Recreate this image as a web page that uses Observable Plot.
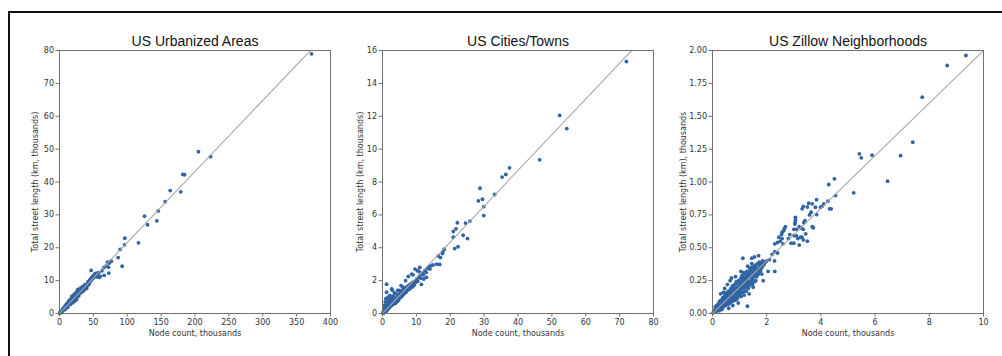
<!DOCTYPE html>
<html>
<head>
<meta charset="utf-8">
<script src="https://cdn.jsdelivr.net/npm/d3@7"></script>
<script src="https://cdn.jsdelivr.net/npm/@observablehq/plot@0.6"></script>
<style>
  html, body { margin: 0; padding: 0; background: #fff; }
  #page { position: relative; width: 1002px; height: 356px; overflow: hidden; background: #fff; }
  #border { position: absolute; left: 8px; top: 11px; width: 1000px; height: 360px; border-top: 2px solid #111; border-left: 2px solid #111; }
  .panel { position: absolute; top: 0; }
</style>
</head>
<body>
<div id="page"><div id="border"></div></div>
<script>
// ---------- data (thousands) ----------
const titles = ["US Urbanized Areas", "US Cities/Towns", "US Zillow Neighborhoods"];
const xLabel = "Node count, thousands";
const yLabels = ["Total street length (km, thousands)", "Total street length (km, thousands)", "Total street length (km), thousands"];

const urbanXTicks = [0, 50, 100, 150, 200, 250, 300, 350, 400];
const urbanYTicks = [0, 10, 20, 30, 40, 50, 60, 70, 80];
const cityXTicks = [0, 10, 20, 30, 40, 50, 60, 70, 80];
const cityYTicks = [0, 2, 4, 6, 8, 10, 12, 14, 16];
const zillowXTicks = [0, 2, 4, 6, 8, 10];
const zillowYTicks = [0, 0.25, 0.5, 0.75, 1.0, 1.25, 1.5, 1.75, 2.0];

// reference lines (node count -> street length)
const urbanRefLine = [[0, 0], [400, 86.4]];
const cityRefLine = [[0, 0], [80, 17.4]];
const zillowRefLine = [[0, 0], [10, 2.0]];

const urbanPoints = [
[0.3,0.1],[0.6,0.2],[0.9,0.2],[1.2,0.3],[1.5,0.3],[1.8,0.4],[2.1,0.5],[2.4,0.5],[2.8,0.6],[3.1,0.7],[3.5,0.7],[3.9,0.8],[4.2,0.9],[4.6,1.0],[5.0,1.1],[5.4,1.1],[5.8,1.3],[6.2,1.2],[6.6,1.4],[7.0,1.5],[7.5,1.7],[7.9,1.6],[8.3,1.8],[8.8,1.9],[9.2,2.1],[9.7,2.0],[10.1,2.3],[10.6,2.2],[11.0,2.5],[11.5,2.4],[12.0,2.6],[12.4,2.8],[12.9,2.7],[13.3,3.0],[13.8,2.9],[14.2,3.2],[14.7,3.1],[15.1,3.4],[15.6,3.3],[16.0,3.7],[16.5,3.5],[16.9,3.9],[17.4,3.6],[17.8,4.1],[18.3,3.8],[18.7,4.3],[19.2,4.0],[19.6,4.5],[20.1,4.2],[20.5,4.8],[21.0,4.4],[21.4,5.1],[21.9,4.6],[22.3,5.4],[22.8,4.9],[23.2,5.7],[23.7,5.0],[24.1,6.0],[24.6,5.3],[25.0,6.3],[25.5,5.6],[26.0,6.1],[26.4,5.4],[26.9,6.6],[27.3,5.9],[27.8,7.0],[28.2,6.2],[28.7,6.8],[29.1,6.4],[29.6,7.2],[30.0,6.7],[30.5,6.3],[31.0,7.1],[31.5,6.9],[32.0,7.3],[32.6,7.0],[33.1,7.4],[33.7,6.8],[34.2,7.6],[34.8,7.3],[35.3,8.0],[35.9,7.6],[36.4,8.4],[37.0,7.9],[37.5,8.6],[38.1,8.1],[38.6,8.3],[39.2,7.8],[39.8,8.5],[40.4,8.2],[41.0,8.8],[41.7,9.1],[42.3,8.7],[43.0,9.4],[43.6,9.7],[44.3,10.1],[45.0,9.8],[45.7,10.4],[46.4,10.0],[47.1,10.8],[47.8,10.5],[48.5,11.1],[49.3,10.7],[50.0,11.4],[50.8,11.0],[51.6,11.8],[52.4,12.1],[53.3,11.5],[54.1,11.2],[55.0,12.3],[56.0,11.6],[57.0,11.1],[58.0,12.4],[59.0,11.0],[60.2,11.3],
[18.0,5.2],[20.8,5.6],[22.5,3.8],[25.4,4.4],[19.5,3.3],[15.0,4.1],[28.5,5.4],[30.8,7.7],[13.0,3.6],[24.0,4.1],[10.5,2.9],[8.0,2.2],[11.8,2.0],[17.0,3.2],[21.5,4.0],[26.8,5.2],[27.0,7.3],[23.5,6.2],
[5.0,1.5],[8.1,1.2],[10.0,2.7],[12.2,1.9],[14.0,3.6],[16.2,2.8],[18.0,4.6],[20.0,3.6],[22.0,5.8],[24.2,4.6],[26.0,6.8],[28.0,5.8],[32.2,6.4],[34.0,8.2],[36.0,7.0],[38.0,8.8],[40.0,7.6],[42.0,9.6],[44.0,9.0],[3.0,0.4],[6.0,1.6],[9.0,1.5],
[46.7,13.1],[62.5,13.0],[65.4,14.0],[66.0,11.6],[68.5,14.4],[72.3,14.1],[72.8,12.3],[73.0,15.3],[74.8,15.8],[71.0,15.6],[76.5,15.9],[86.6,17.0],[89.5,19.5],[92.5,14.4],[96.0,20.9],[96.4,22.9],[116.6,21.5],[125.5,29.6],[130.0,27.0],[143.7,28.2],[145.6,31.2],[156.0,34.0],[163.4,37.4],[179.0,37.0],[182.0,42.3],[184.5,42.2],[205.0,49.2],[223.0,47.7],[372.0,79.0]
];

const cityPoints = [
[0.1,0.02],[0.2,0.05],[0.3,0.1],[0.3,0.03],[0.4,0.12],[0.5,0.08],[0.5,0.2],[0.6,0.15],[0.7,0.1],[0.7,0.25],[0.8,0.18],[0.9,0.3],[0.9,0.12],[1.0,0.22],[1.1,0.35],[1.1,0.15],[1.2,0.28],[1.3,0.45],[1.3,0.2],[1.4,0.32],[1.5,0.55],[1.5,0.25],[1.6,0.38],[1.7,0.3],[1.7,0.6],[1.8,0.42],[1.9,0.35],[2.0,0.5],[2.0,0.75],[2.1,0.4],[2.2,0.55],[2.3,0.45],[2.4,0.62],[2.5,0.5],[2.5,0.8],[2.6,0.58],[2.7,0.48],[2.8,0.65],[2.9,0.55],[3.0,0.72],[3.0,0.9],[3.1,0.6],[3.2,0.7],[3.3,0.58],[3.4,0.78],[3.5,0.68],[3.6,0.85],[3.7,0.72],[3.8,0.62],[3.9,0.9],[4.0,0.8],[4.1,0.7],[4.2,0.95],[4.3,0.85],[4.4,0.75],[4.5,1.0],[4.6,0.9],[4.7,1.1],[4.8,0.82],[4.9,1.0],[5.0,1.15],[5.1,0.95],[5.2,1.08],[5.3,1.25],[5.4,1.0],[5.5,1.15],[5.6,1.3],[5.7,1.05],[5.8,1.2],[5.9,1.38],[6.0,1.12],[6.1,1.28],[6.2,1.45],[6.3,1.2],[6.4,1.35],[6.5,1.5],[6.6,1.25],[6.7,1.4],[6.8,1.55],[6.9,1.3],[7.0,1.45],[7.1,1.6],[7.2,1.38],[7.3,1.52],[7.5,1.65],[7.6,1.45],[7.8,1.58],[8.0,1.72],[8.1,1.5],[8.3,1.65],[8.5,1.8],[8.7,1.6],[8.9,1.75],[9.1,1.9],[9.3,1.7],[9.6,1.85],[9.8,2.0],[10.1,2.1],[10.4,1.95],[10.7,2.2],[11.0,2.3],[11.3,2.15],[11.7,2.45],[12.1,2.35],[12.5,2.6],[12.9,2.5],[13.3,2.75],[13.8,2.85],[14.3,2.9],[14.9,2.95],
[0.4,0.06],[0.6,0.08],[0.8,0.12],[1.0,0.15],[1.2,0.2],[1.4,0.25],[1.6,0.3],[1.8,0.35],[2.0,0.38],[2.2,0.45],[2.4,0.5],[2.6,0.52],[2.8,0.58],[3.0,0.62],[3.2,0.65],[3.4,0.7],[3.6,0.76],[3.8,0.8],[4.0,0.88],[4.2,0.85],[4.4,0.92],[4.6,0.98],[4.8,1.02],[5.0,1.05],[5.2,1.15],[5.4,1.12],[5.6,1.2],[5.8,1.28],[6.0,1.3],[6.2,1.35],[6.4,1.42],[6.6,1.4],[6.8,1.45],[7.0,1.55],[7.2,1.55],[7.4,1.58],[7.7,1.7],[8.2,1.78],[8.8,1.88],[9.4,1.95],[1.5,0.7],[1.9,0.85],[2.3,0.95],[0.4,0.3],[3.2,1.05],[4.0,1.2],[5.0,1.4],[6.0,1.6],
[1.2,1.78],[1.2,1.3],[2.7,1.5],[2.9,1.42],[0.6,0.5],[0.8,0.7],[1.0,0.9],[1.6,1.0],[2.2,1.1],[3.5,1.25],[4.5,1.4],[5.5,1.7],[6.8,2.0],[7.6,2.25],[8.6,2.4],[9.6,2.7],[10.3,2.6],[11.0,2.8],[11.5,1.77],[12.2,2.1],[13.0,2.2],[9.0,2.35],[10.8,2.55],[14.0,2.7],
[16.0,3.0],[16.9,2.98],[16.5,3.5],[17.1,3.4],[17.7,3.65],[17.9,3.8],[18.2,3.91],[21.3,3.95],[22.3,4.06],[25.1,4.56],[23.8,4.76],[20.9,4.64],[20.9,4.99],[21.7,5.15],[22.1,5.52],[24.5,5.5],[25.8,5.62],[29.9,5.96],[29.9,6.5],[29.5,6.95],[28.3,6.85],[28.8,7.62],[33.1,7.24],[35.3,8.3],[36.4,8.46],[37.5,8.86],[46.4,9.35],[54.4,11.25],[52.3,12.05],[72.0,15.33]
];

const zillowPoints = [
[0.02,0.005],[0.05,0.01],[0.08,0.02],[0.1,0.03],[0.12,0.015],[0.14,0.04],[0.16,0.025],[0.18,0.05],[0.2,0.03],[0.2,0.07],[0.22,0.045],[0.24,0.06],[0.25,0.02],[0.27,0.08],[0.28,0.04],[0.3,0.065],[0.3,0.1],[0.32,0.05],[0.34,0.085],[0.35,0.03],[0.36,0.11],[0.38,0.07],[0.4,0.09],[0.4,0.05],[0.42,0.12],[0.44,0.075],[0.45,0.1],[0.46,0.14],[0.48,0.06],[0.5,0.11],[0.5,0.08],[0.52,0.13],[0.53,0.16],[0.55,0.09],[0.56,0.12],[0.58,0.07],[0.6,0.14],[0.6,0.1],[0.62,0.17],[0.63,0.12],[0.65,0.08],[0.66,0.15],[0.68,0.19],[0.7,0.11],[0.7,0.14],[0.72,0.17],[0.73,0.09],[0.75,0.13],[0.76,0.2],[0.78,0.16],[0.8,0.12],[0.8,0.18],[0.82,0.22],[0.83,0.1],[0.85,0.15],[0.86,0.19],[0.88,0.13],[0.9,0.17],[0.9,0.23],[0.92,0.2],[0.93,0.12],[0.95,0.16],[0.96,0.25],[0.98,0.19],[1.0,0.14],[1.0,0.21],[1.02,0.24],[1.03,0.17],[1.05,0.27],[1.06,0.13],[1.08,0.2],[1.1,0.23],[1.1,0.16],[1.12,0.28],[1.14,0.19],[1.15,0.25],[1.17,0.14],[1.18,0.22],[1.2,0.3],[1.2,0.2],[1.22,0.26],[1.24,0.17],[1.25,0.24],[1.27,0.32],[1.28,0.21],[1.3,0.27],[1.32,0.19],[1.33,0.3],[1.35,0.24],[1.37,0.34],[1.38,0.22],[1.4,0.28],[1.42,0.33],[1.43,0.25],[1.45,0.3],[1.47,0.22],[1.48,0.35],[1.5,0.27],[1.52,0.32],[1.54,0.36],[1.55,0.29],[1.57,0.33],[1.6,0.25],[1.6,0.37],[1.62,0.31],[1.65,0.34],[1.67,0.38],[1.7,0.3],[1.72,0.35],[1.75,0.37],[1.78,0.33],[1.8,0.38],[1.83,0.36],[1.85,0.4],[1.9,0.37],[1.95,0.39],
[0.3,0.15],[0.45,0.19],[0.55,0.22],[0.65,0.25],[0.75,0.06],[0.85,0.28],[0.95,0.08],[1.15,0.31],[1.3,0.36],[1.45,0.38],[1.35,0.15],[1.5,0.2],[0.6,0.04],[0.4,0.16],[1.05,0.32],[0.7,0.27],
[0.15,0.06],[0.25,0.09],[0.35,0.06],[0.45,0.13],[0.55,0.15],[0.65,0.11],[0.75,0.17],[0.85,0.12],[0.95,0.2],[1.05,0.19],[1.15,0.21],[1.25,0.27],[1.35,0.28],[1.45,0.26],[1.55,0.34],[1.65,0.3],[0.5,0.14],[0.7,0.16],[0.9,0.15],[1.1,0.26],[1.3,0.23],[1.5,0.31],
[0.1,0.05],[0.15,0.02],[0.2,0.05],[0.25,0.04],[0.3,0.08],[0.35,0.09],[0.38,0.12],[0.42,0.08],[0.47,0.11],[0.52,0.1],[0.57,0.14],[0.6,0.17],[0.62,0.09],[0.67,0.13],[0.72,0.12],[0.74,0.21],[0.78,0.1],[0.8,0.15],[0.84,0.17],[0.87,0.24],[0.9,0.11],[0.93,0.18],[0.97,0.14],[1.0,0.18],[1.03,0.22],[1.07,0.16],[1.09,0.29],[1.13,0.2],[1.16,0.27],[1.19,0.17],[1.23,0.22],[1.26,0.29],[1.29,0.25],[1.34,0.21],[1.36,0.31],[1.41,0.24],[1.44,0.35],[1.49,0.3],[1.53,0.24],[1.58,0.35],[1.63,0.28],[1.68,0.33],[1.73,0.39],[1.76,0.32],[1.82,0.35],[1.88,0.39],
[1.12,0.42],[1.29,0.055],[1.45,0.42],[1.55,0.43],[1.7,0.44],[1.87,0.25],[1.82,0.3],[2.05,0.32],[2.2,0.45],[2.3,0.47],[2.1,0.41],[2.4,0.46],[2.0,0.4],[2.29,0.40],[2.3,0.32],[2.57,0.57],[2.4,0.54],[2.3,0.53],[2.5,0.55],[2.6,0.53],[2.45,0.58],[2.55,0.6],[2.63,0.63],[2.65,0.645],[2.69,0.66],[2.57,0.618],[2.8,0.57],[2.85,0.6],[2.9,0.535],[3.0,0.535],[3.2,0.52],[3.0,0.593],[3.1,0.59],[3.0,0.64],[3.1,0.64],[3.06,0.73],[3.06,0.71],[3.05,0.69],[3.04,0.68],[3.2,0.66],[3.28,0.65],[3.35,0.64],[3.41,0.707],[3.37,0.69],[3.72,0.652],[3.68,0.66],[3.44,0.606],[3.35,0.56],[3.15,0.57],[3.25,0.58],[3.3,0.58],[3.5,0.55],[3.64,0.77],[3.58,0.75],[3.84,0.753],[3.35,0.814],[3.31,0.796],[3.5,0.81],[3.55,0.839],[3.68,0.834],[3.8,0.808],[3.84,0.865],[3.99,0.808],[4.05,0.816],[4.11,0.834],[4.26,0.854],[4.32,0.796],[4.38,0.796],[4.54,0.897],[4.29,0.981],[4.5,1.024],[5.21,0.918],[5.42,1.214],[5.49,1.184],[5.89,1.204],[6.46,1.006],[6.94,1.20],[7.39,1.303],[7.74,1.645],[8.66,1.886],[9.35,1.962]
];

// ---------- drawing ----------
const dotColor = "#2f64a4";
const panels = [
  {left: 0,   ml: 59, points: urbanPoints,  ref: urbanRefLine,  xd: [0, 400], yd: [0, 80], xt: urbanXTicks,  yt: urbanYTicks,  yf: d3.format("d"),   ydx: -24},
  {left: 330, ml: 52, points: cityPoints,   ref: cityRefLine,   xd: [0, 80],  yd: [0, 16], xt: cityXTicks,   yt: cityYTicks,   yf: d3.format("d"),   ydx: -22},
  {left: 660, ml: 52, points: zillowPoints, ref: zillowRefLine, xd: [0, 10],  yd: [0, 2],  xt: zillowXTicks, yt: zillowYTicks, yf: d3.format(".2f"), ydx: -29}
];

const page = document.getElementById("page");
panels.forEach((p, i) => {
  const plotW = 271, plotH = 263, mr = 12, mt = 50, mb = 43;
  const chart = Plot.plot({
    width: p.ml + plotW + mr,
    height: mt + plotH + mb,
    marginLeft: p.ml, marginRight: mr, marginTop: mt, marginBottom: mb,
    style: {fontFamily: "DejaVu Sans", fontSize: "8px", color: "#333", background: "transparent", overflow: "visible"},
    x: {domain: p.xd},
    y: {domain: p.yd},
    marks: [
      Plot.dot(p.points, {x: d => d[0], y: d => d[1], r: 1.9, fill: dotColor, stroke: "none"}),
      Plot.line(p.ref, {x: d => d[0], y: d => d[1], stroke: "#a8a8a8", strokeWidth: 1.1, clip: true}),
      Plot.frame({stroke: "#707070", strokeWidth: 1}),
      Plot.axisX({ticks: p.xt, tickSize: 3.5, tickPadding: 2, stroke: "#707070", fill: "#333", label: null, tickFormat: d3.format("d")}),
      Plot.axisY({ticks: p.yt, tickSize: 3.5, tickPadding: 2, stroke: "#707070", fill: "#333", label: null, tickFormat: p.yf}),
      Plot.text([titles[i]], {frameAnchor: "top", lineAnchor: "middle", dy: -8.5, text: d => d, fontSize: 14, fontFamily: "Liberation Sans, Arial, sans-serif", fill: "#111"}),
      Plot.text([xLabel], {frameAnchor: "bottom", lineAnchor: "middle", dy: 20, text: d => d, fontSize: 8, fill: "#333"}),
      Plot.text([yLabels[i]], {frameAnchor: "left", textAnchor: "middle", lineAnchor: "middle", dx: p.ydx, rotate: -90, text: d => d, fontSize: 8, fill: "#333"})
    ]
  });
  chart.classList.add("panel");
  chart.style.left = p.left + "px";
  page.appendChild(chart);
});
</script>
</body>
</html>
